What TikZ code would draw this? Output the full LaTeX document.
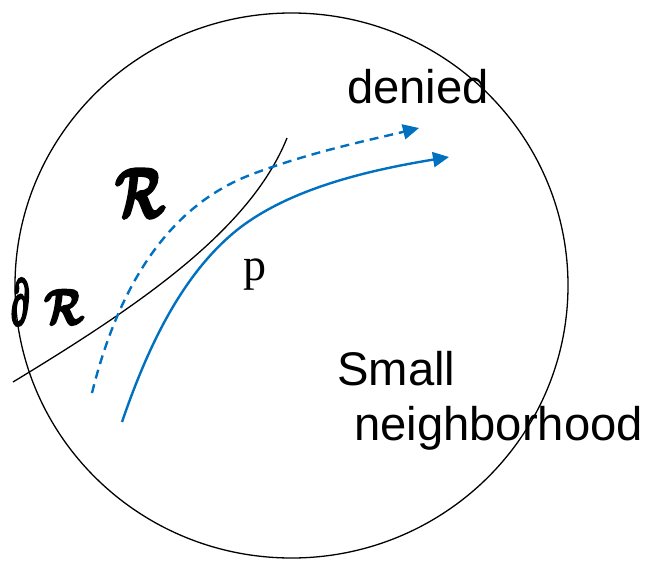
\documentclass[tikz,border=0pt]{standalone}
\usepackage{amsmath}
\usepackage{graphicx}
\usepackage{fontspec}
\setmainfont{Liberation Serif}
\newfontfamily\arialf{Liberation Sans}
\usetikzlibrary{arrows.meta}
\definecolor{pblue}{RGB}{0,112,192}
\newcommand{\heavyglyph}[2]{\special{pdf:literal direct 2 Tr #1 w}#2\special{pdf:literal direct 0 Tr}}
\tikzset{
  bnd/.style={black, line width=1.3pt},
  traj/.style={pblue, line width=2.4pt, -{Triangle[length=16pt,width=15pt]}},
  lbl/.style={inner sep=0pt, anchor=base west, font=\arialf\fontsize{47.2}{47.2}\selectfont},
  mlbl/.style={inner sep=0pt, font=\Huge},
}
\begin{document}
\begin{tikzpicture}[x=1pt,y=-1pt]
\useasboundingbox (0,0) rectangle (648,560);
% neighbourhood
\draw[bnd] (291.5,285.5) ellipse [x radius=276.5, y radius=272.5];
% boundary of R
\draw[bnd] (13,382) .. controls (140,305) and (250,230) .. (287,138);
% denied trajectory
\draw[traj, dash pattern=on 9pt off 6pt] (92,393) .. controls (115,300) and (160,210) .. (250,175)
  .. controls (310,152) and (370,140) .. (419,128);
% allowed trajectory
\draw[traj] (122,422) .. controls (150,340) and (185,272) .. (237,230)
  .. controls (290,188) and (370,170) .. (449,157);
% labels
\node[lbl] (den) at (347,103) {denied};
\node[lbl] (sm) at (337,385) {Small};
\node[lbl] (nb) at (354,440) {neighborhood};
\node[inner sep=0pt, anchor=base west, font=\fontsize{46}{46}\selectfont] (p) at (243,280) {p};
\node[mlbl] (R) at (140,193) {\scalebox{2}[2.8]{\heavyglyph{1.2}{$\boldsymbol{\mathcal{R}}$}}};
\node[mlbl] (dd) at (20,302) {\scalebox{1.1}[2.6]{\heavyglyph{1.2}{$\boldsymbol{\partial}$}}};
\node[mlbl] (dR) at (64,307) {\scalebox{1.6}[2.0]{\heavyglyph{1.2}{$\boldsymbol{\mathcal{R}}$}}};
\end{tikzpicture}
\end{document}
